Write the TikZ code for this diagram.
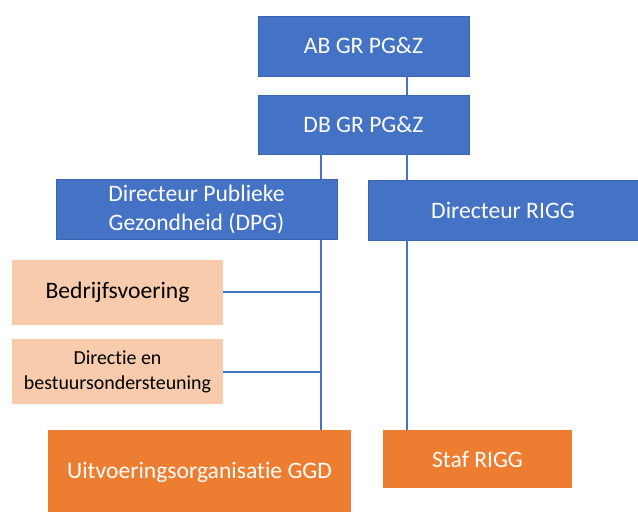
\documentclass[tikz,border=0pt]{standalone}
\usepackage{fontspec}
\setmainfont{Carlito}[Ligatures=NoCommon]
\definecolor{bbox}{HTML}{4472C4}
\definecolor{bedge}{HTML}{3A64B0}
\definecolor{obox}{HTML}{ED7D31}
\definecolor{pbox}{HTML}{F8CBAD}
\begin{document}
\begin{tikzpicture}[x=1bp,y=-1bp,
  bluebox/.style={fill=bbox,draw=bedge,line width=0.6bp,text=white,align=center,inner sep=0pt,font=\fontsize{23.7}{29}\selectfont},
  orangebox/.style={fill=obox,draw=none,text=white,align=center,inner sep=0pt,font=\fontsize{23.7}{29}\selectfont},
  peachbox/.style={fill=pbox,draw=none,text=black,align=center,inner sep=0pt},
  link/.style={draw=bbox,line width=1.6bp}]
\useasboundingbox (0,0) rectangle (638,512);
\node[bluebox,minimum width=211bp,minimum height=60bp] (ab) at (363.5,46) {AB GR PG\&Z};
\node[bluebox,minimum width=211bp,minimum height=59bp] (db) at (363.5,124.5) {DB GR PG\&Z};
\node[bluebox,minimum width=281bp,minimum height=60bp] (dpg) at (196.5,209.5) {Directeur Publieke\\Gezondheid (DPG)};
\node[bluebox,minimum width=270bp,minimum height=60bp] (rigg) at (503,210) {Directeur RIGG};
\node[peachbox,minimum width=211bp,minimum height=65bp,font=\fontsize{23.7}{29}\selectfont] (bv) at (117.5,292.5) {Bedrijfsvoering};
\node[peachbox,minimum width=211bp,minimum height=65bp,font=\fontsize{20}{25}\selectfont] (dir) at (117.5,371.5) {Directie en\\bestuursondersteuning};
\node[orangebox,minimum width=303bp,minimum height=84bp] (uit) at (199.5,472) {Uitvoeringsorganisatie GGD};
\node[orangebox,minimum width=189bp,minimum height=58bp] (staf) at (477.5,459) {Staf RIGG};
% connectors
\coordinate (ja) at (321,292);
\coordinate (jb) at (321,372);
\draw[link] (ab.south -| 407,0) -- (db.north -| 407,0);
\draw[link] (db.south -| 321,0) -- (dpg.north -| 321,0);
\draw[link] (db.south -| 407,0) -- (rigg.north -| 407,0);
\draw[link] (dpg.south -| 321,0) -- (uit.north -| 321,0);
\draw[link] (rigg.south -| 407,0) -- (staf.north -| 407,0);
\draw[link] (bv.east |- ja) -- (ja);
\draw[link] (dir.east |- jb) -- (jb);
\end{tikzpicture}
\end{document}
